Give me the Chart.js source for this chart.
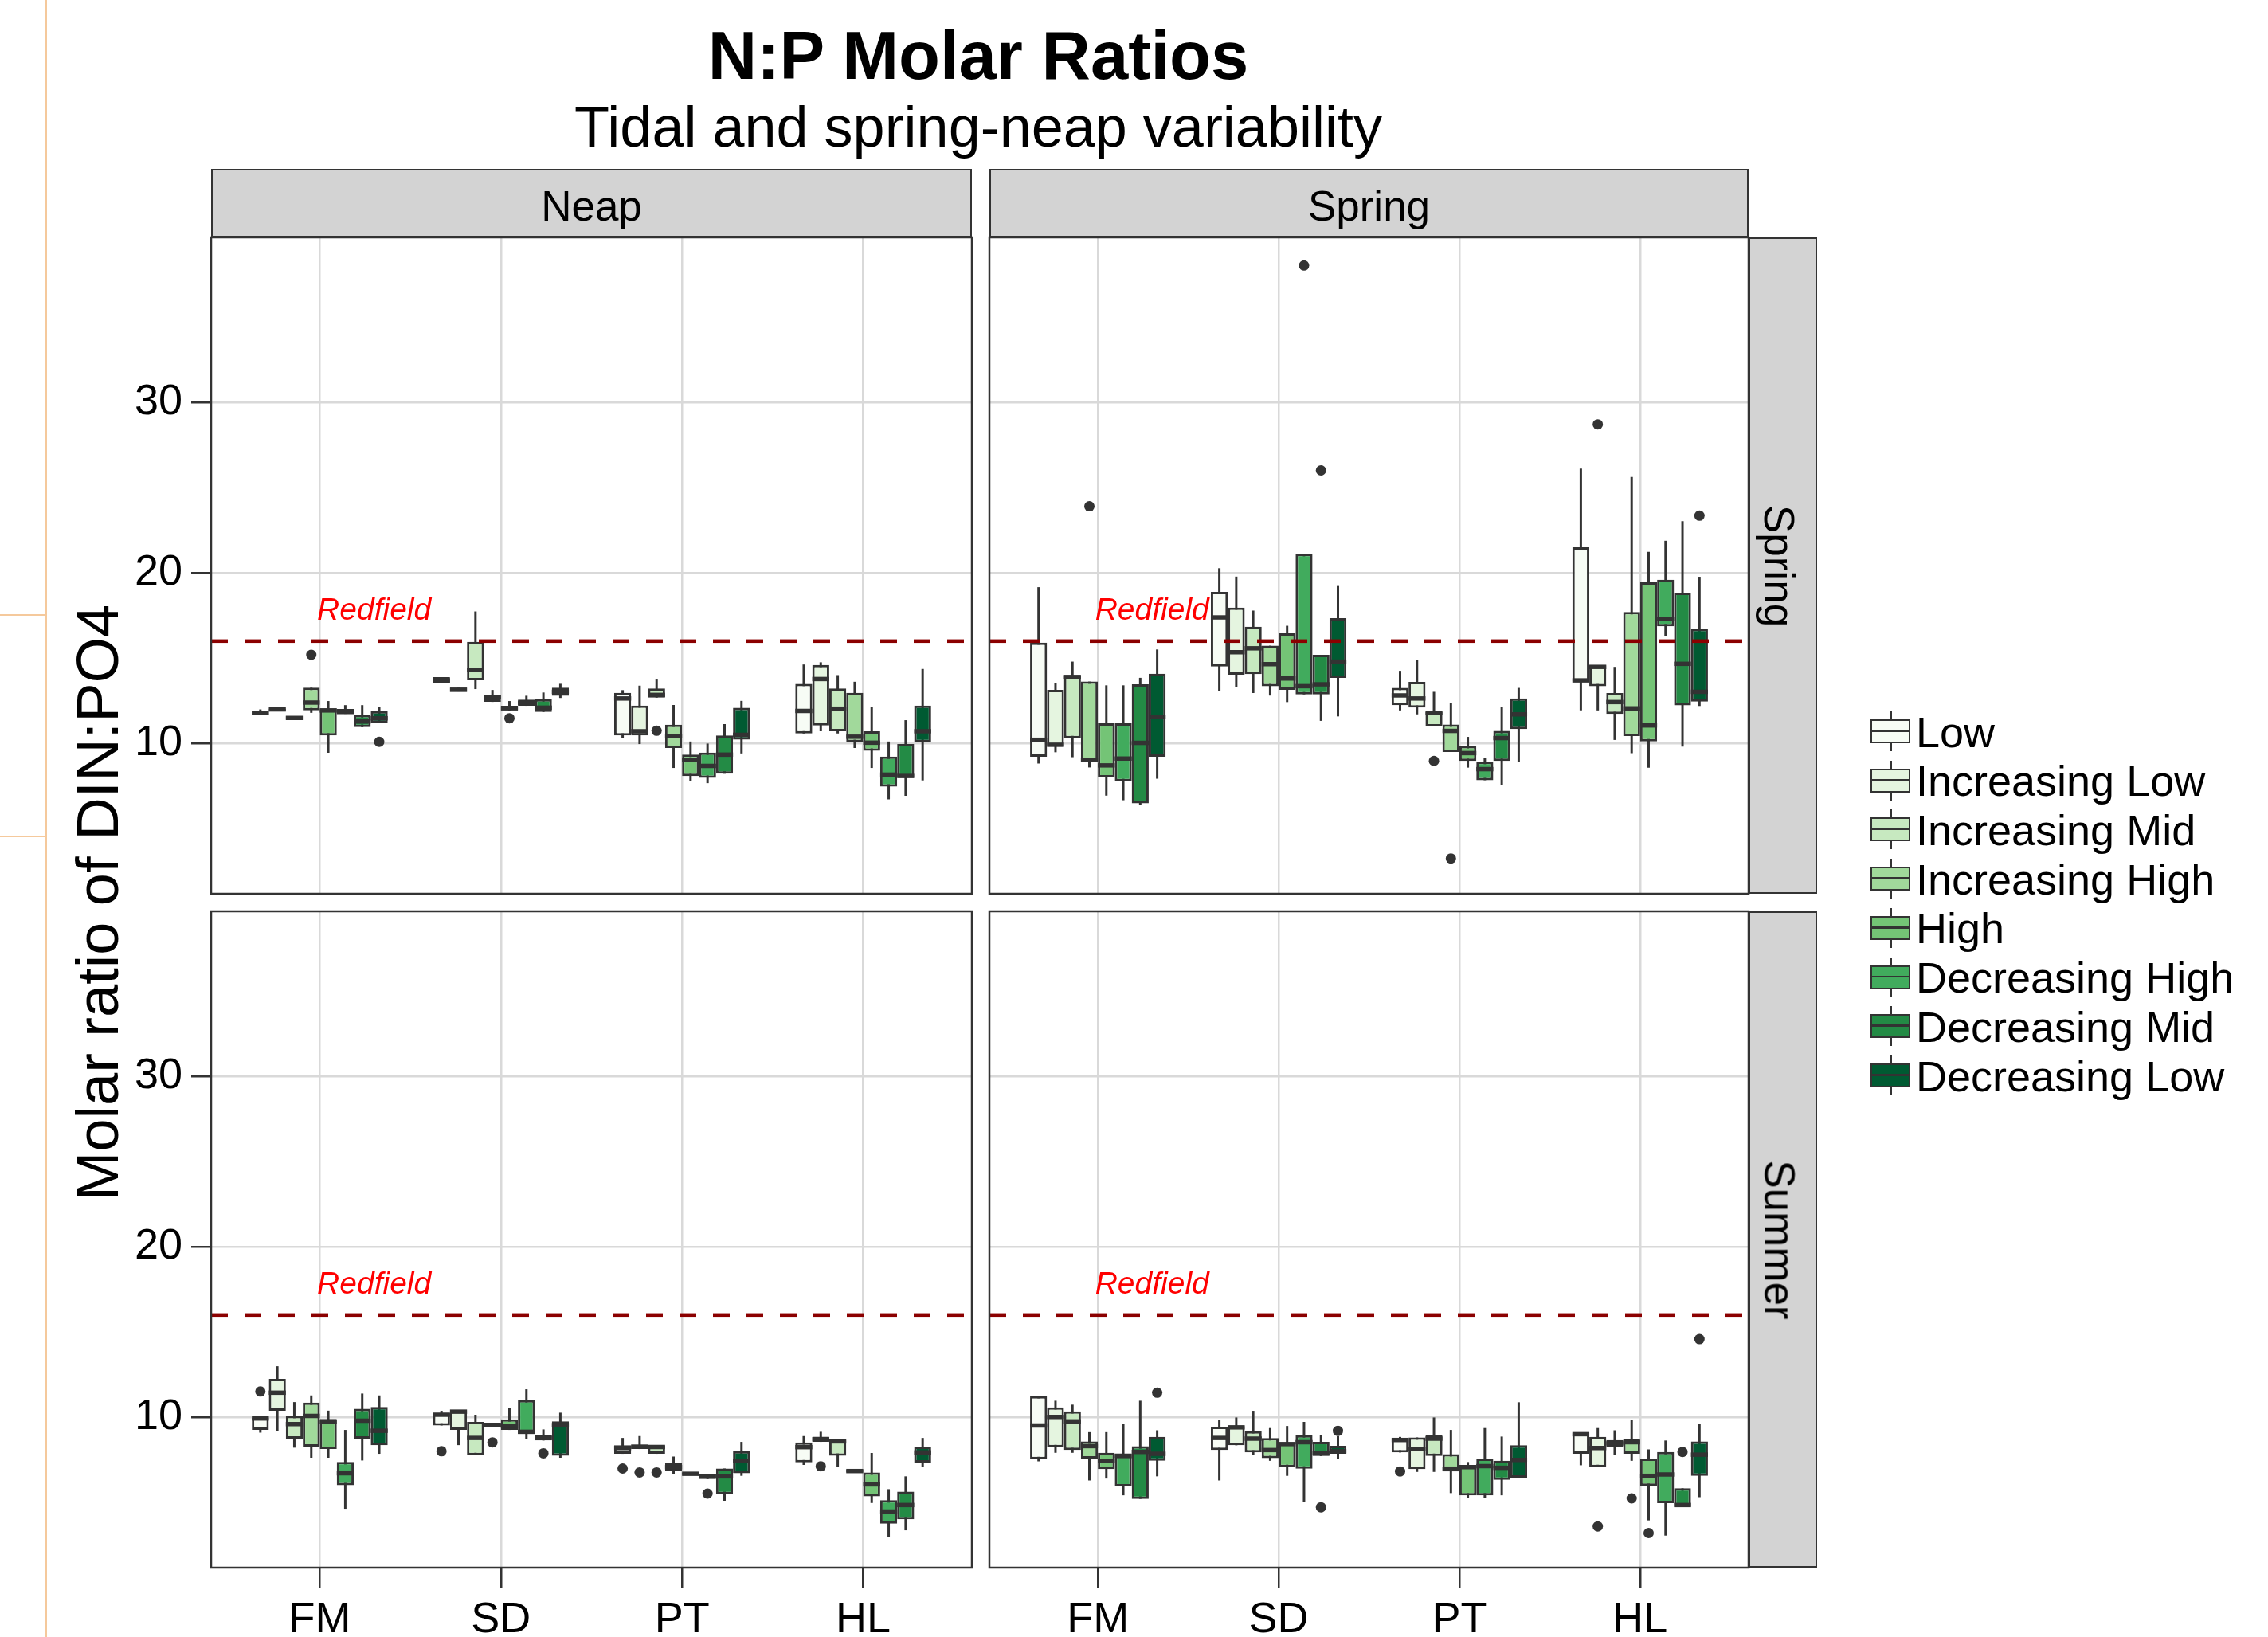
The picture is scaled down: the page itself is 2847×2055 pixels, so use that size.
<!DOCTYPE html>
<html>
<head>
<meta charset="utf-8">
<title>N:P Molar Ratios</title>
<script src="https://cdn.jsdelivr.net/npm/chart.js@4.4.1/dist/chart.umd.min.js"></script>
<style>
  body { margin: 0; width: 2847px; height: 2055px; overflow: hidden; background: #fff; position: relative;
         font-family: Arial, "Liberation Sans", sans-serif; color: #000; }
  canvas { position: absolute; }
  .txt { position: absolute; white-space: nowrap; line-height: 1; }
  .strip { position: absolute; box-sizing: border-box; background: #d3d3d3; border: 2.5px solid #333;
           display: flex; align-items: center; justify-content: center; font-size: 53px; line-height: 1; }
  .key { position: absolute; width: 50px; height: 50px; }
  .whisk { position: absolute; left: 24px; top: 0; width: 2.5px; height: 50px; background: #333; }
  .kbox { position: absolute; left: 0; top: 10px; width: 50px; height: 30px; box-sizing: border-box; border: 2.5px solid #333; }
  .kmid { position: absolute; left: 0; right: 0; top: 11.25px; height: 2.5px; background: #333; }
</style>
</head>
<body>
<div style="position:absolute;left:57px;top:0;width:2px;height:2055px;background:#f5c99c"></div>
<div style="position:absolute;left:0;top:771px;width:57px;height:2px;background:#f5c99c"></div>
<div style="position:absolute;left:0;top:1049px;width:57px;height:2px;background:#f5c99c"></div>

<div class="txt" style="left:1228px;top:27px;font-size:85px;font-weight:bold;transform:translateX(-50%)">N:P Molar Ratios</div>
<div class="txt" style="left:1228px;top:123px;font-size:72px;transform:translateX(-50%)">Tidal and spring-neap variability</div>
<div class="txt" style="left:123px;top:1133px;font-size:74px;transform:translate(-50%,-50%) rotate(-90deg)">Molar ratio of DIN:PO4</div>

<script>
const sites = ['FM', 'SD', 'PT', 'HL'];
const stages = ['Low', 'Increasing Low', 'Increasing Mid', 'Increasing High',
                'High', 'Decreasing High', 'Decreasing Mid', 'Decreasing Low'];
const stageColours = ['#f7fcf5', '#e5f5e0', '#c7e9c0', '#a1d99b', '#74c476', '#41ab5d', '#238b45', '#005a32'];
const tides = ['Neap', 'Spring'];
const seasons = ['Spring', 'Summer'];
const yTicks = [10, 20, 30];
const redfield = 16;
const redfieldLabel = { x: 1.3, y: 17.75, text: 'Redfield' };

// rows: [lower whisker, Q1, median, Q3, upper whisker]; 8 stages for FM, then SD, PT, HL
const neapSpringStats = [
  [11.7, 11.7, 11.8, 11.9, 12.0], [11.9, 11.9, 12.0, 12.05, 12.1], [11.45, 11.45, 11.5, 11.6, 11.6], [11.8, 11.94, 12.4, 13.27, 13.27],
  [9.46, 10.47, 11.94, 12.05, 12.49], [11.74, 11.74, 11.85, 12.02, 12.25], [10.96, 10.96, 11.29, 11.68, 12.25], [11.2, 11.2, 11.48, 11.9, 12.13],
  [13.55, 13.55, 13.7, 13.89, 13.89], [13.05, 13.05, 13.15, 13.27, 13.27], [13.19, 13.7, 14.31, 15.96, 17.74], [12.44, 12.44, 12.72, 12.86, 13.14],
  [11.94, 11.94, 12.07, 12.21, 12.49], [12.21, 12.21, 12.38, 12.57, 12.8], [11.85, 11.85, 12.1, 12.6, 12.99], [12.67, 12.8, 13.03, 13.27, 13.5],
  [10.31, 10.47, 12.64, 12.97, 13.13], [9.97, 10.47, 10.72, 12.22, 13.39], [12.69, 12.69, 12.85, 13.23, 13.75], [8.57, 9.74, 10.44, 11.1, 12.26],
  [7.79, 8.1, 9.04, 9.35, 10.12], [7.68, 7.99, 8.69, 9.47, 10.0], [8.23, 8.23, 9.35, 10.47, 11.14], [9.42, 10.23, 10.51, 12.1, 12.5],
  [10.59, 10.59, 11.91, 13.5, 14.63], [10.72, 11.06, 13.78, 14.6, 14.76], [10.59, 10.72, 12.04, 13.23, 14.01], [9.74, 10.09, 10.4, 12.97, 13.62],
  [8.57, 9.58, 10.05, 10.72, 12.12], [6.73, 7.48, 8.18, 9.24, 10.12], [6.94, 8.02, 8.1, 9.97, 11.37], [7.84, 10.08, 10.72, 12.22, 14.37]
];
const springSpringStats = [
  [8.83, 9.23, 10.22, 15.91, 19.16], [9.49, 9.82, 9.93, 13.14, 13.54], [9.2, 10.31, 13.9, 13.98, 14.8], [8.6, 8.9, 9.05, 13.63, 13.63],
  [6.95, 8.01, 8.72, 11.19, 13.41], [6.68, 7.79, 9.12, 11.19, 13.41], [6.39, 6.5, 10.04, 13.47, 13.85], [7.94, 9.23, 11.55, 14.09, 15.51],
  [13.08, 14.51, 17.39, 18.89, 20.27], [13.32, 14.03, 15.35, 17.96, 19.78], [12.96, 14.07, 15.58, 16.84, 17.79], [12.81, 13.36, 14.65, 15.73, 15.73],
  [12.43, 13.14, 13.81, 16.46, 16.9], [12.88, 12.88, 13.36, 21.11, 21.11], [11.33, 12.88, 13.47, 15.2, 15.2], [11.59, 13.85, 14.8, 17.35, 19.23],
  [11.94, 12.25, 12.82, 13.26, 14.26], [11.71, 12.11, 12.64, 13.61, 14.88], [11.0, 11.0, 11.8, 11.85, 13.03], [9.51, 9.51, 10.74, 11.11, 12.38],
  [8.59, 8.98, 9.44, 9.86, 10.39], [7.85, 7.85, 8.5, 8.94, 9.15], [7.57, 8.98, 10.32, 10.74, 12.15], [8.94, 10.85, 11.71, 12.64, 13.26],
  [11.94, 13.66, 13.7, 21.5, 26.11], [11.94, 13.35, 14.49, 14.58, 14.58], [10.21, 11.73, 12.43, 12.96, 14.49], [9.44, 10.44, 12.06, 17.71, 25.62],
  [8.59, 10.12, 11.06, 19.45, 21.23], [16.3, 16.87, 17.31, 19.6, 21.88], [9.82, 12.24, 14.67, 18.84, 23.03], [12.2, 12.46, 13.03, 16.73, 19.77]
];
const neapSummerStats = [
  [9.11, 9.27, 9.94, 10.0, 10.0], [9.22, 10.39, 11.45, 12.26, 13.0], [8.23, 8.76, 9.61, 10.09, 10.9], [7.64, 8.29, 10.09, 10.87, 11.29],
  [7.64, 8.15, 9.74, 9.92, 10.4], [4.65, 6.03, 6.73, 7.4, 9.27], [7.48, 8.76, 9.81, 10.51, 11.4], [7.87, 8.38, 9.22, 10.62, 11.29],
  [9.53, 9.53, 10.16, 10.25, 10.39], [8.38, 9.27, 10.34, 10.39, 10.39], [7.79, 7.79, 8.8, 9.74, 10.16], [9.42, 9.42, 9.55, 9.69, 9.69],
  [9.27, 9.27, 9.5, 9.89, 10.54], [8.76, 9.04, 9.16, 11.01, 11.65], [8.65, 8.65, 8.8, 8.96, 9.3], [7.64, 7.76, 9.55, 9.77, 10.28],
  [7.87, 7.87, 8.21, 8.38, 8.8], [8.15, 8.15, 8.29, 8.38, 8.91], [7.87, 7.87, 8.27, 8.34, 8.34], [6.7, 6.86, 7.09, 7.33, 7.71],
  [6.63, 6.63, 6.7, 6.78, 6.78], [6.39, 6.39, 6.55, 6.66, 6.66], [5.12, 5.51, 6.55, 7.01, 7.01], [6.58, 6.73, 7.45, 8.02, 8.57],
  [7.22, 7.37, 8.26, 8.54, 8.91], [8.57, 8.57, 8.72, 8.88, 9.16], [7.09, 7.76, 8.6, 8.65, 8.65], [6.78, 6.78, 6.86, 6.94, 6.94],
  [4.99, 5.38, 6.08, 6.78, 7.92], [3.0, 3.78, 4.49, 5.15, 5.8], [3.39, 4.03, 4.87, 5.66, 6.55], [7.09, 7.36, 7.95, 8.29, 8.8]
];
const springSummerStats = [
  [7.43, 7.56, 9.53, 11.24, 11.24], [7.93, 8.26, 10.03, 10.59, 10.98], [7.93, 8.09, 9.77, 10.36, 10.75], [6.31, 7.59, 8.32, 8.6, 9.14],
  [6.42, 6.97, 7.46, 7.93, 9.14], [5.44, 5.96, 7.74, 7.9, 9.64], [5.23, 5.23, 7.98, 8.32, 10.98], [6.55, 7.47, 7.87, 8.86, 9.25],
  [6.31, 8.09, 8.8, 9.46, 9.88], [8.37, 8.37, 9.42, 9.49, 10.0], [7.79, 7.95, 8.76, 9.19, 10.39], [7.46, 7.62, 8.09, 8.8, 9.38],
  [6.58, 7.09, 8.44, 8.55, 9.5], [5.07, 7.0, 8.55, 8.96, 9.74], [7.74, 7.74, 7.9, 8.57, 8.99], [7.59, 7.87, 8.02, 8.34, 8.91],
  [7.95, 7.95, 8.68, 8.72, 8.86], [6.81, 6.97, 8.16, 8.83, 8.83], [6.81, 7.74, 8.76, 8.99, 10.0], [5.57, 6.84, 7.0, 7.85, 9.27],
  [5.3, 5.44, 7.09, 7.2, 7.39], [5.3, 5.44, 7.15, 7.59, 9.38], [5.44, 6.35, 7.05, 7.46, 8.88], [6.47, 6.47, 7.51, 8.37, 10.89],
  [7.2, 7.87, 9.02, 9.1, 9.1], [7.09, 7.09, 8.21, 8.86, 9.38], [7.82, 8.26, 8.48, 8.68, 9.25], [7.46, 7.87, 8.55, 8.76, 9.88],
  [3.97, 5.99, 6.58, 7.59, 8.13], [3.08, 4.98, 6.66, 7.98, 8.65], [4.76, 4.76, 4.87, 5.85, 5.85], [5.33, 6.58, 7.82, 8.6, 9.64]
];

// outliers: [site index, stage index, value]
const neapSpringOutliers = [[0, 3, 15.2], [0, 7, 10.1], [1, 4, 11.48], [2, 2, 10.75]];
const springSpringOutliers = [[0, 3, 23.9], [1, 5, 38.0], [1, 6, 26.0], [2, 2, 8.98], [2, 3, 3.27], [3, 1, 28.7], [3, 7, 23.35]];
const neapSummerOutliers = [[0, 0, 11.52], [1, 0, 8.02], [1, 3, 8.54], [1, 6, 7.9], [2, 0, 7.01], [2, 1, 6.78], [2, 2, 6.78], [2, 5, 5.54], [3, 1, 7.14]];
const springSummerOutliers = [[0, 7, 11.45], [1, 6, 4.74], [1, 7, 9.22], [2, 0, 6.84], [3, 1, 3.62], [3, 3, 5.26], [3, 4, 3.23], [3, 6, 7.98], [3, 7, 14.59]];

// page layout
const FONT = 'Arial, "Liberation Sans", sans-serif';
const colLeft = [265, 1242], colWidth = [955, 953];
const rowTop = [298, 1144], rowHeight = 824;
const PAD = 60, AXIS_W = 115, AXIS_H = 100;
const dodge = 0.75;
const boxW = dodge / stages.length;
const xOf = (s, i) => s + 1 + (i - (stages.length - 1) / 2) * boxW;

const frame = {
  id: 'frame',
  afterDraw(chart) {
    const a = chart.chartArea, c = chart.ctx;
    c.save();
    c.strokeStyle = '#333';
    c.lineWidth = 2.5;
    c.strokeRect(a.left, a.top, a.right - a.left, a.bottom - a.top);
    c.restore();
  }
};

const redfieldText = {
  id: 'redfieldText',
  afterDatasetsDraw(chart) {
    const c = chart.ctx;
    c.save();
    c.font = 'italic 39px ' + FONT;
    c.fillStyle = '#ff0000';
    c.textAlign = 'center';
    c.textBaseline = 'middle';
    c.fillText(redfieldLabel.text, chart.scales.x.getPixelForValue(redfieldLabel.x), chart.scales.y.getPixelForValue(redfieldLabel.y));
    c.restore();
  }
};

function halfBox(chart) {
  const x = chart.scales.x;
  return Math.abs(x.getPixelForValue(1 + boxW / 2) - x.getPixelForValue(1));
}

function drawPanel(rows, outs, col, row) {
  const showY = col === 0, showX = row === 1;
  const canvas = document.createElement('canvas');
  canvas.width = colWidth[col] + 2 * PAD + (showY ? AXIS_W : 0);
  canvas.height = rowHeight + 2 * PAD + (showX ? AXIS_H : 0);
  canvas.style.left = (colLeft[col] - PAD - (showY ? AXIS_W : 0)) + 'px';
  canvas.style.top = (rowTop[row] - PAD) + 'px';
  document.body.appendChild(canvas);

  const datasets = [
    {
      type: 'line',
      data: [{ x: 0.4, y: redfield }, { x: 4.6, y: redfield }],
      borderColor: '#8b0000', borderWidth: 4.5, borderDash: [21, 21],
      pointRadius: 0, fill: false
    },
    {
      type: 'scatter',
      data: rows.map((r, k) => ({ x: xOf(Math.floor(k / 8), k % 8), y: r[2] })),
      pointStyle: 'line',
      pointRadius: ctx => halfBox(ctx.chart),
      pointBorderWidth: 5.5, pointBorderColor: '#333', pointBackgroundColor: '#333'
    },
    {
      type: 'scatter',
      data: outs.map(o => ({ x: xOf(o[0], o[1]), y: o[2] })),
      pointRadius: 6.5, pointBorderWidth: 0, pointBackgroundColor: '#333'
    }
  ];
  stages.forEach((name, i) => {
    datasets.push({
      type: 'bar', stack: 's' + i,
      data: sites.map((site, s) => ({ x: s + 1, y: [rows[s * 8 + i][1], rows[s * 8 + i][3]] })),
      backgroundColor: stageColours[i], borderColor: '#333', borderWidth: 3, borderSkipped: false,
      categoryPercentage: dodge, barPercentage: 1
    });
  });
  stages.forEach((name, i) => {
    datasets.push({
      type: 'bar', stack: 's' + i,
      data: sites.map((site, s) => ({ x: s + 1, y: [rows[s * 8 + i][0], rows[s * 8 + i][4]] })),
      backgroundColor: '#333', borderWidth: 0,
      categoryPercentage: dodge, barPercentage: 0.14
    });
  });

  new Chart(canvas, {
    type: 'bar',
    data: { datasets: datasets },
    plugins: [frame, redfieldText],
    options: {
      responsive: false,
      animation: false,
      devicePixelRatio: 1,
      events: [],
      layout: { padding: PAD },
      plugins: { legend: { display: false }, tooltip: { enabled: false } },
      scales: {
        x: {
          type: 'linear', min: 0.4, max: 4.6, bounds: 'data', offset: false,
          grid: { color: '#d9d9d9', lineWidth: 2.5, offset: false, drawTicks: showX, tickLength: 25, tickColor: '#333', tickWidth: 2.5 },
          border: { display: false },
          ticks: {
            display: showX, color: '#000', padding: 9, maxRotation: 0, autoSkip: false,
            font: { family: FONT, size: 54, lineHeight: 1.2 },
            callback: v => sites[Math.round(v) - 1]
          },
          afterBuildTicks: s => { s.ticks = sites.map((site, i) => ({ value: i + 1 })); },
          afterFit: s => { s.height = showX ? AXIS_H : 0; }
        },
        y: {
          type: 'linear', min: 1.2, max: 39.65, bounds: 'data', stacked: false, beginAtZero: false,
          grid: { color: '#d9d9d9', lineWidth: 2.5, drawTicks: showY, tickLength: 25, tickColor: '#333', tickWidth: 2.5 },
          border: { display: false },
          ticks: {
            display: showY, color: '#000', padding: 11,
            font: { family: FONT, size: 54, lineHeight: 1.2 }
          },
          afterBuildTicks: s => { s.ticks = yTicks.map(v => ({ value: v })); },
          afterFit: s => { s.width = showY ? AXIS_W : 0; }
        }
      }
    }
  });
}

drawPanel(neapSpringStats, neapSpringOutliers, 0, 0);
drawPanel(springSpringStats, springSpringOutliers, 1, 0);
drawPanel(neapSummerStats, neapSummerOutliers, 0, 1);
drawPanel(springSummerStats, springSummerOutliers, 1, 1);

// facet strips
tides.forEach((t, c) => {
  const d = document.createElement('div');
  d.className = 'strip';
  d.style.cssText = `left:${colLeft[c]}px;top:212px;width:${colWidth[c]}px;height:86px;padding-top:6px`;
  d.textContent = t;
  document.body.appendChild(d);
});
seasons.forEach((s, r) => {
  const d = document.createElement('div');
  d.className = 'strip';
  d.style.cssText = `left:2195px;top:${rowTop[r]}px;width:86px;height:${rowHeight}px;padding-right:8px`;
  const span = document.createElement('span');
  span.style.cssText = 'display:inline-block;transform:rotate(90deg);white-space:nowrap';
  span.textContent = s;
  d.appendChild(span);
  document.body.appendChild(d);
});

// legend
stages.forEach((name, i) => {
  const yc = 918 + i * 61.7;
  const key = document.createElement('div');
  key.className = 'key';
  key.style.left = '2348px';
  key.style.top = (yc - 25) + 'px';
  key.innerHTML = `<div class="whisk"></div><div class="kbox" style="background:${stageColours[i]}"><div class="kmid"></div></div>`;
  document.body.appendChild(key);
  const label = document.createElement('div');
  label.className = 'txt';
  label.style.cssText = `left:2405px;top:${yc - 26.4}px;font-size:54px`;
  label.textContent = name;
  document.body.appendChild(label);
});
</script>
</body>
</html>
